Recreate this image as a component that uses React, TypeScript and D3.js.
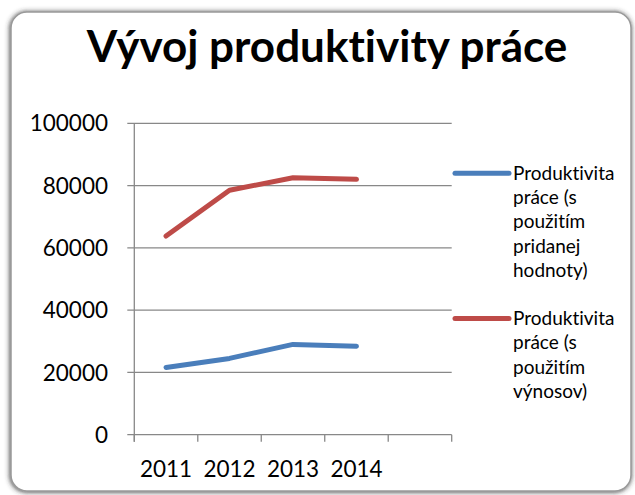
import React from "react";
import * as d3 from "d3";

const title = "Vývoj produktivity práce";
const categories = ["2011", "2012", "2013", "2014", ""];
const years = ["2011", "2012", "2013", "2014"];
const seriesNames = [
  ["Produktivita", "práce (s", "použitím", "pridanej", "hodnoty)"],
  ["Produktivita", "práce (s", "použitím", "výnosov)"],
];
const valueAdded = [21600, 24500, 29000, 28400];
const revenue = [63800, 78500, 82500, 82000];
const yTicks = [0, 20000, 40000, 60000, 80000, 100000];
const colors = ["#4A7EBB", "#BE4B48"];

export default function App() {
  const W = 635, H = 495;
  const left = 134.3, right = 451.7, top = 123.3, bottom = 434.7;
  const x = d3.scaleBand().domain(categories).range([left, right]);
  const y = d3.scaleLinear().domain([0, 100000]).range([bottom, top]);
  const line = d3
    .line<number>()
    .x((_, i) => (x(years[i]) as number) + x.bandwidth() / 2)
    .y((d) => y(d));
  const series = [valueAdded, revenue];
  const font = "Lato, 'Open Sans', sans-serif";
  const legendY = [173.3, 318.5];
  const lh = 24.3;
  const xTickPositions = categories.map((c) => x(c) as number).concat([right]);

  return (
    <svg
      width={W}
      height={H}
      style={{ position: "absolute", left: 0, top: 0, display: "block", fontVariantLigatures: "none" }}
      fontFamily={font}
    >
      <defs>
        <filter id="sh" x="-5%" y="-5%" width="110%" height="110%">
          <feDropShadow dx="-0.5" dy="0.5" stdDeviation="2.4" floodColor="#333" floodOpacity="0.95" />
        </filter>
      </defs>
      <rect x={0} y={0} width={W} height={H} fill="#fff" />
      <rect
        x={11}
        y={12}
        width={620}
        height={479}
        rx={16}
        ry={16}
        fill="#fff"
        stroke="#999"
        strokeWidth={1.5}
        filter="url(#sh)"
      />
      <text
        x={327}
        y={62}
        textAnchor="middle"
        fontSize={44}
        fontWeight="bold"
        fill="#000"
      >
        {title}
      </text>
      {yTicks.map((t) => (
        <line
          key={"g" + t}
          x1={left - 7}
          x2={right}
          y1={y(t)}
          y2={y(t)}
          stroke="#888"
          strokeWidth={1.3}
        />
      ))}
      <line x1={left} x2={left} y1={top} y2={bottom + 7} stroke="#888" strokeWidth={1.3} />
      {xTickPositions.map((p, i) => (
        <line key={"xt" + i} x1={p} x2={p} y1={bottom} y2={bottom + 7} stroke="#888" strokeWidth={1.3} />
      ))}
      {yTicks.map((t) => (
        <text
          key={"yl" + t}
          x={108}
          y={y(t)}
          dy="0.36em"
          textAnchor="end"
          fontSize={22.5}
          fill="#000"
        >
          {t}
        </text>
      ))}
      {years.map((c) => (
        <text
          key={"xl" + c}
          x={(x(c) as number) + x.bandwidth() / 2}
          y={477}
          textAnchor="middle"
          fontSize={22.5}
          fill="#000"
        >
          {c}
        </text>
      ))}
      {series.map((s, i) => (
        <path
          key={"s" + i}
          d={line(s) || ""}
          fill="none"
          stroke={colors[i]}
          strokeWidth={5}
          strokeLinecap="round"
          strokeLinejoin="round"
        />
      ))}
      {seriesNames.map((lines, i) => (
        <g key={"lg" + i}>
          <line
            x1={455}
            x2={509}
            y1={legendY[i]}
            y2={legendY[i]}
            stroke={colors[i]}
            strokeWidth={5}
            strokeLinecap="round"
          />
          {lines.map((t, j) => (
            <text key={j} x={513} y={legendY[i] + 6.5 + j * lh} fontSize={19} fill="#000">
              {t}
            </text>
          ))}
        </g>
      ))}
    </svg>
  );
}
